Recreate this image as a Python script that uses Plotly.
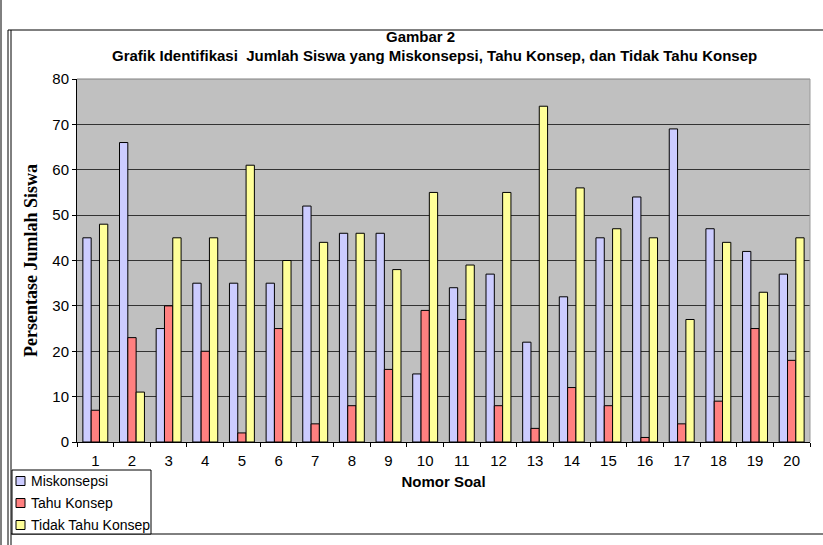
import plotly.graph_objects as go

soal = [str(i) for i in range(1, 21)]
miskonsepsi = [45, 66, 25, 35, 35, 35, 52, 46, 46, 15, 34, 37, 22, 32, 45, 54, 69, 47, 42, 37]
tahu_konsep = [7, 23, 30, 20, 2, 25, 4, 8, 16, 29, 27, 8, 3, 12, 8, 1, 4, 9, 25, 18]
tidak_tahu = [48, 11, 45, 45, 61, 40, 44, 46, 38, 55, 39, 55, 74, 56, 47, 45, 27, 44, 33, 45]
series_names = ["Miskonsepsi", "Tahu Konsep", "Tidak Tahu Konsep"]
series_colors = ["#CCCCFF", "#FF8080", "#FFFF99"]
y_ticks = [0, 10, 20, 30, 40, 50, 60, 70, 80]

W, H = 823, 545
L, R, T, B = 77, 13, 79, 103
pw, ph = W - L - R, H - T - B

def px(x):
    return (x - L) / pw

def py(y):
    return (H - B - y) / ph

fig = go.Figure()
line = dict(color="black", width=1)
for name, color, vals in zip(series_names, series_colors, [miskonsepsi, tahu_konsep, tidak_tahu]):
    fig.add_trace(go.Bar(name=name, x=soal, y=vals, marker=dict(color=color, line=line)))

fig.update_layout(
    width=W, height=H,
    margin=dict(l=L, r=R, t=T, b=B, autoexpand=False),
    paper_bgcolor="white",
    plot_bgcolor="#C0C0C0",
    barmode="group",
    bargap=0.32,
    bargroupgap=0,
    font=dict(family="Liberation Sans, Arial", size=14, color="black"),
    showlegend=False,
    xaxis=dict(
        type="category", showline=True, linecolor="black", linewidth=1,
        ticks="outside", tickson="boundaries", ticklen=4, tickcolor="black",
        tickfont=dict(size=15), showgrid=False, ticklabelstandoff=5,
        title=dict(text="<b>Nomor Soal</b>", font=dict(size=15), standoff=8),
    ),
    yaxis=dict(
        range=[0, 80], tickvals=y_ticks, showline=True, linecolor="black", linewidth=1,
        ticks="outside", ticklen=4, tickcolor="black", tickfont=dict(size=15),
        gridcolor="#333333", gridwidth=1, zeroline=False,
        title=dict(text="<b>Persentase Jumlah Siswa</b>",
                   font=dict(family="Liberation Serif, Times New Roman", size=18), standoff=10),
    ),
)

fig.add_annotation(xref="paper", yref="paper", x=px(420), y=py(37), yanchor="middle",
                   text="<b>Gambar 2</b>", showarrow=False, font=dict(size=15))
fig.add_annotation(xref="paper", yref="paper", x=px(434), y=py(55), yanchor="middle",
                   text="<b>Grafik Identifikasi  Jumlah Siswa yang Miskonsepsi, Tahu Konsep, dan Tidak Tahu Konsep</b>",
                   showarrow=False, font=dict(size=15))

frame = dict(color="black", width=1)
shapes = [
    dict(type="line", xref="paper", yref="paper", x0=px(8), x1=px(823), y0=py(30), y1=py(30), line=frame),
    dict(type="line", xref="paper", yref="paper", x0=px(8), x1=px(8), y0=py(30), y1=py(545), line=frame),
    dict(type="line", xref="paper", yref="paper", x0=px(11), x1=px(11), y0=py(30), y1=py(545), line=frame),
    dict(type="line", xref="paper", yref="paper", x0=px(11), x1=px(823), y0=py(534), y1=py(534), line=frame),
    dict(type="line", xref="paper", yref="paper", x0=px(1), x1=px(1), y0=py(0), y1=py(545), line=frame),
    # gray plot-area border (top and right)
    dict(type="line", xref="paper", yref="paper", x0=0, x1=1, y0=1, y1=1, line=dict(color="#808080", width=1)),
    dict(type="line", xref="paper", yref="paper", x0=1, x1=1, y0=0, y1=1, line=dict(color="#999999", width=1)),
    # legend box
    dict(type="rect", xref="paper", yref="paper", x0=px(12), x1=px(151), y0=py(470), y1=py(534),
         line=frame, fillcolor="white"),
]
for i, (name, color) in enumerate(zip(series_names, series_colors)):
    cy = 481 + i * 22
    shapes.append(dict(type="rect", xref="paper", yref="paper", x0=px(16), x1=px(25),
                       y0=py(cy - 4.5), y1=py(cy + 4.5), line=frame, fillcolor=color))
    fig.add_annotation(xref="paper", yref="paper", x=px(29), y=py(cy), xanchor="left", yanchor="middle",
                       text=name, showarrow=False, font=dict(size=14))
fig.update_layout(shapes=shapes)

fig.write_html("out.html", config={"displayModeBar": False},
               post_script="document.body.style.margin='0';")
